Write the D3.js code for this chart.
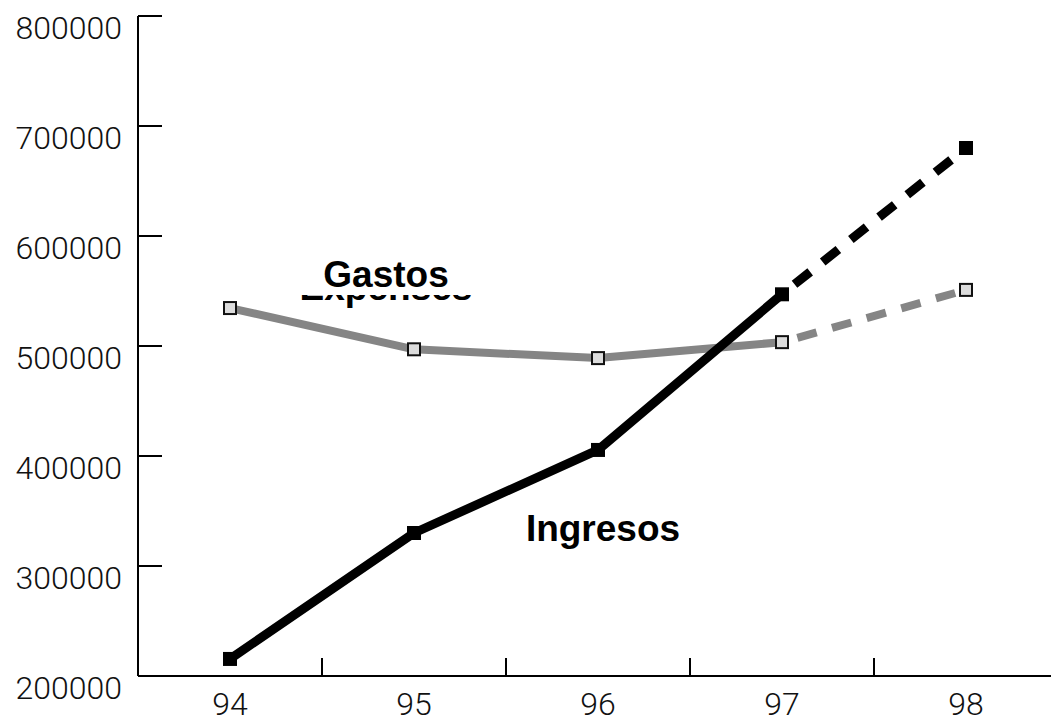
<!DOCTYPE html>
<html>
<head>
<meta charset="utf-8">
<script src="https://cdn.jsdelivr.net/npm/d3@7"></script>
<style>
	body { margin: 0; background: #fff; }
	svg { display: block; }
	.tick-label { font-family: Roboto, 'Liberation Sans', sans-serif; font-weight: 300; font-size: 32px; fill: #111; }
	.series-label { font-family: 'Liberation Sans', Arial, sans-serif; font-weight: bold; font-size: 37px; fill: #000; }
</style>
</head>
<body>
<script>
const years = ['94', '95', '96', '97', '98']
const ingresos = [215500, 330000, 405500, 547000, 680000]
const gastos = [534500, 497000, 489000, 503500, 551000]
const yTicks = [200000, 300000, 400000, 500000, 600000, 700000, 800000]
const projectedFrom = '97' // last real year, the rest is dashed

const width = 1051
const height = 719
const svg = d3.select('body').append('svg')
	.attr('width', width)
	.attr('height', height)

const x = d3.scaleBand().domain(years).range([138, 1058])
const y = d3.scaleLinear().domain([200000, 800000]).range([676, 16])
const cx = d => x(d) + x.bandwidth() / 2

// axes
const axis = svg.append('g').attr('stroke', '#000').attr('stroke-width', 2)
axis.append('line').attr('x1', 138).attr('x2', 138).attr('y1', y(800000)).attr('y2', y(200000))
axis.append('line').attr('x1', 138).attr('x2', width).attr('y1', y(200000)).attr('y2', y(200000))
axis.selectAll('line.ytick').data(yTicks.slice(1)).join('line').classed('ytick', true)
	.attr('x1', 138).attr('x2', 162)
	.attr('y1', d => y(d)).attr('y2', d => y(d))
axis.selectAll('line.xtick').data(years.slice(1)).join('line').classed('xtick', true)
	.attr('x1', d => x(d)).attr('x2', d => x(d))
	.attr('y1', y(200000)).attr('y2', y(200000) - 18)

svg.selectAll('text.ylab').data(yTicks).join('text').attr('class', 'tick-label ylab')
	.attr('x', 122)
	.attr('y', d => y(d) + 23)
	.attr('text-anchor', 'end')
	.text(d => d)
svg.selectAll('text.xlab').data(years).join('text').attr('class', 'tick-label xlab')
	.attr('x', d => cx(d))
	.attr('y', 715)
	.attr('text-anchor', 'middle')
	.text(d => d)

const line = d3.line().x(d => cx(d.year)).y(d => y(d.value))
const split = years.indexOf(projectedFrom)

function drawSeries(values, color, lineWidth, marker) {
	const pts = values.map((v, i) => ({ year: years[i], value: v }))
	svg.append('path').datum(pts.slice(0, split + 1))
		.attr('fill', 'none').attr('stroke', color).attr('stroke-width', lineWidth)
		.attr('stroke-linejoin', 'round')
		.attr('d', line)
	svg.append('path').datum(pts.slice(split))
		.attr('fill', 'none').attr('stroke', color).attr('stroke-width', lineWidth)
		.attr('stroke-dasharray', '20 16').attr('stroke-dashoffset', 20)
		.attr('d', line)
	svg.append('g').selectAll('rect').data(pts).join('rect')
		.attr('x', d => cx(d.year) - 6)
		.attr('y', d => y(d.value) - 6)
		.attr('width', 12)
		.attr('height', 12)
		.attr('fill', marker.fill)
		.attr('stroke', marker.stroke)
		.attr('stroke-width', 2)
}

drawSeries(gastos, '#858585', 8, { fill: '#dcdcdc', stroke: '#111' })
drawSeries(ingresos, '#000', 9, { fill: '#000', stroke: '#000' })

// labels: the old english label sits under the spanish one, half hidden
svg.append('text').attr('class', 'series-label')
	.attr('x', 386).attr('y', 300).attr('text-anchor', 'middle')
	.text('Expenses')
svg.append('rect').attr('x', 290).attr('y', 255).attr('width', 195).attr('height', 40).attr('fill', '#fff')
svg.append('text').attr('class', 'series-label')
	.attr('x', 386).attr('y', 287).attr('text-anchor', 'middle')
	.text('Gastos')
svg.append('text').attr('class', 'series-label')
	.attr('x', 603).attr('y', 541).attr('text-anchor', 'middle')
	.text('Ingresos')
</script>
</body>
</html>
